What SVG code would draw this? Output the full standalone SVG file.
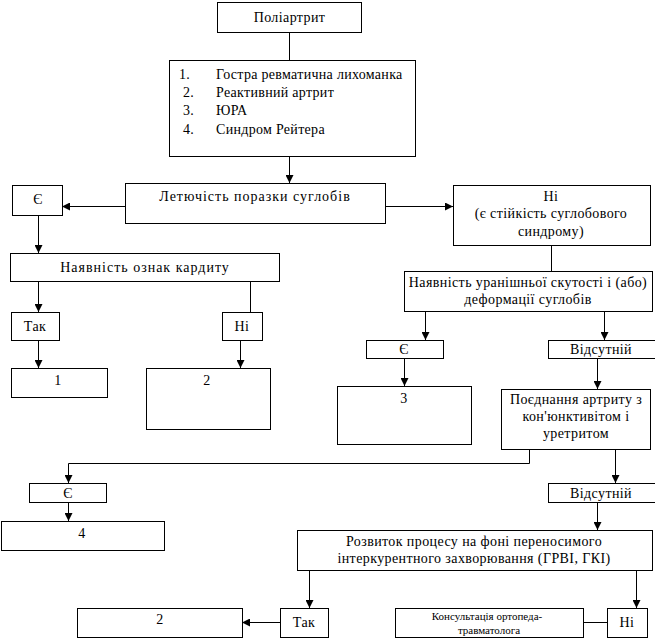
<svg xmlns="http://www.w3.org/2000/svg" width="655" height="638" viewBox="0 0 655 638">
<style>
rect{fill:#fff;stroke:#000;stroke-width:1}
.t text{fill:#000;text-anchor:middle;letter-spacing:0.4px}
.t .w{letter-spacing:1px}
.t .s{font-size:11px;letter-spacing:0}
.t .l{text-anchor:start;letter-spacing:0.3px}
#connectors path{fill:none;stroke:#000;stroke-width:1}
#connectors .a{marker-end:url(#ah)}
</style>
<defs>
<marker id="ah" viewBox="0 0 8 8" refX="8" refY="4" markerWidth="8" markerHeight="8" markerUnits="userSpaceOnUse" orient="auto">
<path d="M0,0 L8,4 L0,8 z" fill="#000"/>
</marker>
</defs>
<rect x="0" y="0" width="655" height="638" style="stroke:none"/>
<g id="connectors">
<path d="M289.5,32 V60"/>
<path class="a" d="M289.5,156 V183"/>
<path class="a" d="M125,206.5 H62"/>
<path class="a" d="M385,206.5 H453"/>
<path class="a" d="M38.5,215 V253"/>
<path class="a" d="M38.5,281 V312"/>
<path d="M250.5,281 V312"/>
<path class="a" d="M38.5,340 V368"/>
<path class="a" d="M240.5,340 V368"/>
<path d="M551.5,245 V271"/>
<path class="a" d="M425.5,311 V340"/>
<path class="a" d="M604.5,311 V340"/>
<path class="a" d="M404.5,358 V386"/>
<path class="a" d="M597.5,358 V389"/>
<path class="a" d="M529.5,449 V463.5 H68.5 V483"/>
<path class="a" d="M615.5,449 V483"/>
<path class="a" d="M68.5,502 V521"/>
<path class="a" d="M597.5,502 V530"/>
<path class="a" d="M309.5,570 V608"/>
<path class="a" d="M636.5,570 V608"/>
<path class="a" d="M280,622.5 H242"/>
<path d="M583,622.5 H607"/>
</g>
<g class="t" font-family="Liberation Serif, serif" font-size="14">
<g id="n-poliartryt"><rect x="217.5" y="2.5" width="144" height="30"/><text x="289.5" y="22">Поліартрит</text></g>
<g id="n-list"><rect x="169.5" y="60.5" width="246" height="96"/>
<text class="l" x="179" y="79">1.</text><text class="l" x="216" y="79">Гостра ревматична лихоманка</text>
<text class="l" x="183" y="97">2.</text><text class="l" x="216" y="97">Реактивний артрит</text>
<text class="l" x="183" y="115">3.</text><text class="l" x="216" y="115">ЮРА</text>
<text class="l" x="183" y="134">4.</text><text class="l" x="216" y="134">Синдром Рейтера</text></g>
<g id="n-letuchist"><rect x="125.5" y="183.5" width="260" height="40"/><text class="w" x="255" y="201">Летючість поразки суглобів</text></g>
<g id="n-ye1"><rect x="12.5" y="185.5" width="50" height="30"/><text x="38" y="204">Є</text></g>
<g id="n-ni1"><rect x="453.5" y="185.5" width="197" height="60"/><text x="551" y="201">Ні</text><text x="551" y="218">(є стійкість суглобового</text><text x="551" y="236">синдрому)</text></g>
<g id="n-kardyt"><rect x="10.5" y="253.5" width="269" height="28"/><text class="w" x="145" y="272">Наявність ознак кардиту</text></g>
<g id="n-tak1"><rect x="11.5" y="312.5" width="48" height="28"/><text x="35" y="331">Так</text></g>
<g id="n-ni2"><rect x="222.5" y="312.5" width="40" height="28"/><text x="242" y="331">Ні</text></g>
<g id="n-r1"><rect x="11.5" y="368.5" width="96" height="29"/><text x="58" y="385">1</text></g>
<g id="n-r2"><rect x="146.5" y="368.5" width="124" height="61"/><text x="207" y="385">2</text></g>
<g id="n-skutist"><rect x="404.5" y="271.5" width="248" height="40"/><text x="528" y="287">Наявність уранішньої скутості і (або)</text><text x="528" y="304">деформації суглобів</text></g>
<g id="n-ye2"><rect x="366.5" y="340.5" width="77" height="18"/><text x="404" y="354">Є</text></g>
<g id="n-vidsutnii1"><rect x="548.5" y="340.5" width="107" height="18"/><text x="601" y="354">Відсутній</text></g>
<g id="n-r3"><rect x="337.5" y="386.5" width="134" height="58"/><text x="404" y="403">3</text></g>
<g id="n-poyednannia"><rect x="501.5" y="389.5" width="149" height="60"/><text x="576" y="404">Поєднання артриту з</text><text x="576" y="421">кон'юнктивітом і</text><text x="576" y="438">уретритом</text></g>
<g id="n-ye3"><rect x="29.5" y="483.5" width="77" height="19"/><text x="68" y="498">Є</text></g>
<g id="n-r4"><rect x="1.5" y="521.5" width="163" height="29"/><text x="82" y="538">4</text></g>
<g id="n-vidsutnii2"><rect x="548.5" y="483.5" width="107" height="19"/><text x="601" y="498">Відсутній</text></g>
<g id="n-rozvytok"><rect x="297.5" y="530.5" width="355" height="40"/><text x="474" y="546">Розвиток процесу на фоні переносимого</text><text x="474" y="563">інтеркурентного захворювання (ГРВІ, ГКІ)</text></g>
<g id="n-tak2"><rect x="280.5" y="608.5" width="48" height="29"/><text x="304" y="627">Так</text></g>
<g id="n-ni3"><rect x="607.5" y="608.5" width="40" height="29"/><text x="627" y="627">Ні</text></g>
<g id="n-r2b"><rect x="77.5" y="608.5" width="165" height="29"/><text x="160" y="624">2</text></g>
<g id="n-konsultatsiia"><rect x="395.5" y="608.5" width="188" height="29"/><text class="s" x="487" y="620">Консультація ортопеда-</text><text class="s" x="489" y="634">травматолога</text></g>
</g>
</svg>
